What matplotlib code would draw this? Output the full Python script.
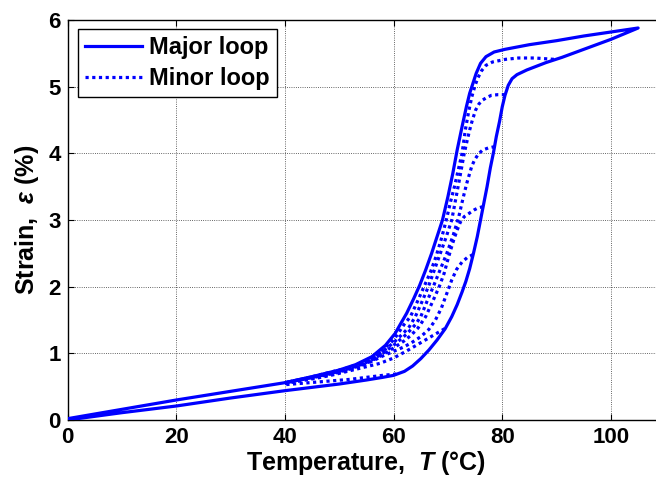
import numpy as np
import matplotlib
matplotlib.use("Agg")
import matplotlib.pyplot as plt

# --- Fondid ---
plt.rcParams["font.family"] = ["Liberation Sans", "DejaVu Sans"]
plt.rcParams["font.weight"] = "bold"
plt.rcParams["mathtext.fontset"] = "custom"
plt.rcParams["mathtext.rm"] = "Liberation Sans:bold"
plt.rcParams["mathtext.it"] = "Liberation Sans:italic:bold"
plt.rcParams["mathtext.bf"] = "Liberation Sans:bold"

# --- Suur silmus: kuumutamine (alumine haru) ---
heat_T = [0, 10, 20, 30, 40, 45, 50, 55, 58, 60, 62, 63.5, 65, 66.5, 68, 69.5, 70.7,
          71.7, 72.6, 73.3, 74.0, 74.7, 75.4, 76.0, 76.6, 77.2, 77.8, 78.4, 78.9, 79.5,
          80.0, 80.5, 81.1, 81.8, 82.7, 84.5, 88, 91, 95, 100, 105]
heat_eps = [0.0, 0.11, 0.21, 0.33, 0.44, 0.49, 0.54, 0.60, 0.64, 0.67, 0.73, 0.81, 0.92,
            1.05, 1.20, 1.37, 1.55, 1.73, 1.92, 2.08, 2.27, 2.50, 2.75, 3.00, 3.25, 3.50,
            3.78, 4.02, 4.25, 4.48, 4.70, 4.87, 5.02, 5.12, 5.18, 5.25, 5.36, 5.44, 5.56,
            5.71, 5.88]

# --- Suur silmus: jahutamine (ülemine haru) ---
cool_T = [105, 100, 95, 90, 85, 80.5, 78.5, 77.0, 76.0, 75.2, 74.6, 74.0, 73.4, 72.6,
          71.7, 70.9, 70.0, 69.0, 68.0, 67.0, 65.9, 64.8, 63.7, 62.4, 61.2, 60.3, 58.5,
          56, 53, 50, 45, 40, 30, 20, 10, 0]
cool_eps = [5.88, 5.82, 5.76, 5.69, 5.63, 5.56, 5.52, 5.45, 5.35, 5.20, 5.05, 4.90, 4.70,
            4.40, 4.05, 3.70, 3.35, 3.00, 2.75, 2.50, 2.25, 2.02, 1.82, 1.60, 1.43, 1.30,
            1.12, 0.95, 0.83, 0.75, 0.65, 0.56, 0.43, 0.30, 0.16, 0.02]

# --- Väikesed silmused (jahutusharud pöördepunktist) ---
minor_A_T = [60.5, 58, 55, 52, 49, 46, 43, 40]
minor_A_eps = [0.69, 0.67, 0.64, 0.61, 0.59, 0.57, 0.55, 0.53]

minor_B_T = [69.4, 67.5, 65, 62.5, 60, 57.5, 55, 52, 49, 46, 43, 40]
minor_B_eps = [1.37, 1.28, 1.16, 1.04, 0.93, 0.85, 0.80, 0.74, 0.68, 0.63, 0.59, 0.55]

minor_C_T = [74.6, 73.6, 72.6, 71.6, 70.7, 69.8, 68.8, 67.7, 66.5, 65.0, 63.5, 62, 60,
             58, 56, 54, 51, 48, 44, 40]
minor_C_eps = [2.48, 2.44, 2.37, 2.26, 2.10, 1.90, 1.68, 1.50, 1.36, 1.25, 1.17, 1.10,
               1.03, 0.96, 0.88, 0.81, 0.73, 0.67, 0.61, 0.55]

minor_D_T = [76.45, 75.5, 74.8, 73.9, 73.0, 72.3, 71.7, 71.1, 70.5, 69.9, 69.3, 68.4,
             67.2, 65.9, 64.5, 63.2, 62, 60, 58, 56, 54, 51, 48, 44, 40]
minor_D_eps = [3.20, 3.18, 3.15, 3.10, 3.05, 2.97, 2.85, 2.71, 2.55, 2.38, 2.20, 2.00,
               1.78, 1.55, 1.38, 1.27, 1.19, 1.08, 0.98, 0.89, 0.82, 0.74, 0.68, 0.62, 0.56]

minor_E_T = [78.6, 77.4, 76.4, 75.6, 74.9, 74.4, 74.0, 73.5, 73.0, 72.5, 72.0, 71.0,
             69.8, 68.5, 67.3, 66.1, 65.0, 64.0, 63.1, 62, 60, 58, 56, 54, 51, 48, 44, 40]
minor_E_eps = [4.10, 4.08, 4.05, 3.99, 3.90, 3.81, 3.70, 3.56, 3.40, 3.23, 3.05, 2.78,
               2.50, 2.24, 2.00, 1.77, 1.55, 1.43, 1.35, 1.26, 1.12, 1.00, 0.90, 0.83,
               0.75, 0.69, 0.62, 0.56]

minor_F_T = [80.5, 79.2, 78.0, 77.2, 76.4, 75.7, 75.1, 74.5, 74.0, 73.5, 73.0, 72.1,
             71.4, 70.7, 69.7, 68.6, 67.5, 66.4, 65.2, 64.0, 62.9, 62, 60, 58, 56, 54,
             51, 48, 44, 40]
minor_F_eps = [4.88, 4.88, 4.87, 4.84, 4.80, 4.74, 4.65, 4.50, 4.35, 4.18, 4.00, 3.60,
               3.30, 3.00, 2.75, 2.50, 2.25, 2.00, 1.77, 1.55, 1.40, 1.32, 1.16, 1.03,
               0.92, 0.84, 0.76, 0.70, 0.63, 0.56]

minor_G_T = [89.5, 86, 83, 80.6, 78.2, 77.0, 76.2, 75.5, 75.0, 74.4, 73.8, 73.2, 72.6,
             71.9, 71.2, 70.5, 69.7, 68.8, 67.8, 66.8, 65.6, 64.4, 63.1, 62, 60, 58, 56,
             54, 51, 48, 44, 40]
minor_G_eps = [5.41, 5.43, 5.43, 5.41, 5.37, 5.32, 5.24, 5.13, 5.02, 4.85, 4.62, 4.35,
               4.00, 3.75, 3.50, 3.28, 3.00, 2.72, 2.45, 2.22, 2.00, 1.78, 1.55, 1.44,
               1.20, 1.05, 0.93, 0.85, 0.77, 0.71, 0.63, 0.56]

minor_T = [minor_A_T, minor_B_T, minor_C_T, minor_D_T, minor_E_T, minor_F_T, minor_G_T]
minor_eps = [minor_A_eps, minor_B_eps, minor_C_eps, minor_D_eps, minor_E_eps,
             minor_F_eps, minor_G_eps]

x_ticks = [0, 20, 40, 60, 80, 100]
y_ticks = [0, 1, 2, 3, 4, 5, 6]

BLUE = (0, 0, 1)
DOT = (0, (1, 1.1))

fig = plt.figure(figsize=(6.56, 4.83), dpi=100)
ax = fig.add_axes([0.1029, 0.1304, 0.9113, 0.8282])

# väikesed silmused punktiiriga
for i, (t, e) in enumerate(zip(minor_T, minor_eps)):
    ax.plot(t, e, color=BLUE, lw=2.3, linestyle=DOT,
            label="Minor loop" if i == 0 else None, zorder=2)

# suur silmus pideva joonega
ax.plot(heat_T + cool_T, heat_eps + cool_eps, color=BLUE, lw=2.3,
        label="Major loop", zorder=3)

ax.set_xlim(0, 110)
ax.set_ylim(0, 6)
ax.set_xticks(x_ticks)
ax.set_yticks(y_ticks)
ax.grid(True, color="k", linestyle=":", linewidth=0.6, alpha=0.8)
ax.tick_params(direction="in", length=4, width=0.8, top=True, right=True,
               labelsize=16, pad=5)
for lab in ax.get_xticklabels() + ax.get_yticklabels():
    lab.set_fontweight("bold")
for sp in ax.spines.values():
    sp.set_linewidth(1.0)

ax.set_xlabel(r"Temperature,  $\mathit{T}$ (°C)", fontsize=18, fontweight="bold",
              labelpad=1)
ax.set_ylabel(r"Strain,  $\mathit{\varepsilon}$ (%)", fontsize=18, fontweight="bold",
              labelpad=5)

handles, labels = ax.get_legend_handles_labels()
order = [labels.index("Major loop"), labels.index("Minor loop")]
leg = ax.legend([handles[k] for k in order], [labels[k] for k in order],
                loc="upper left", bbox_to_anchor=(0.018, 0.978),
                prop={"weight": "bold", "size": 17},
                frameon=True, fancybox=False, edgecolor="k", framealpha=1,
                handlelength=2.4, handletextpad=0.3, labelspacing=0.35,
                borderpad=0.3, borderaxespad=0.0)
leg.get_frame().set_linewidth(1.0)

fig.savefig("out.png", dpi=100)
